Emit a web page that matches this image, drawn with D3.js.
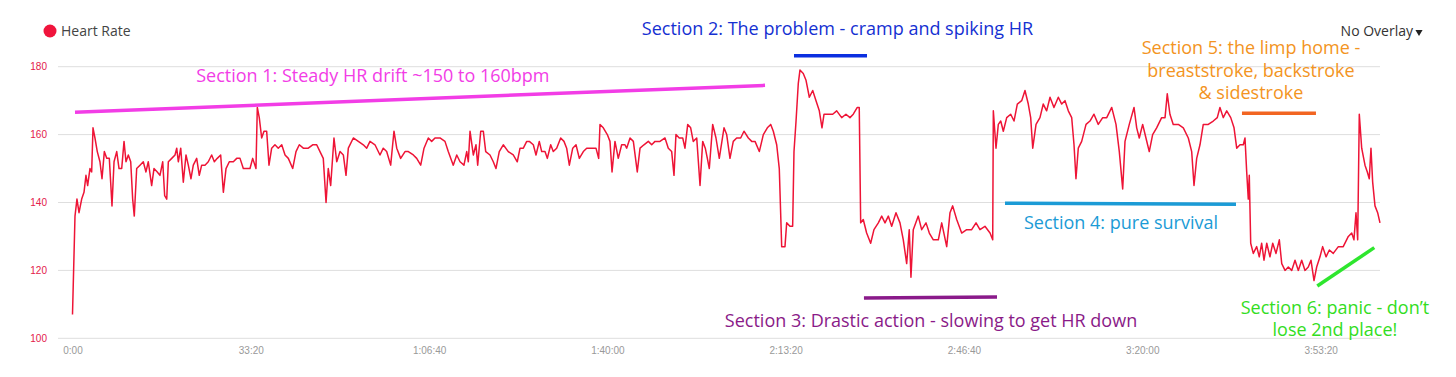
<!DOCTYPE html>
<html>
<head>
<meta charset="utf-8">
<script src="https://cdn.jsdelivr.net/npm/d3@7"></script>
<style>
  html, body { margin: 0; padding: 0; background: #fff; }
  svg { display: block; }
  .ytick text { font-family: "Liberation Sans", Arial, sans-serif; font-size: 10px; fill: #e3204a; }
  .xtick text { font-family: "Liberation Sans", Arial, sans-serif; font-size: 10px; fill: #999; }
  .note { font-family: "Open Sans", sans-serif; font-size: 18px; }
</style>
</head>
<body>
<div id="chart"></div>
<script>
// elapsed seconds, bpm
const heartRate = [
  [0,107],[28,136],[50,141],[73,137],[103,141],[129,143],[151,148],[170,145],[196,150],[215,149],[230,162],[252,159],[278,155],[308,152],[331,147],[357,155],[384,153],[413,153],[443,139],[466,152],[496,155],[522,150],[552,150],[578,158],[600,152],[626,154],[653,152],[675,141],[693,136],[720,150],[757,151],[794,152],[824,149],[850,152],[888,145],[914,150],[951,149],[981,148],[1012,152],[1034,142],[1057,141],[1075,152],[1113,153],[1150,154],[1169,156],[1187,152],[1214,156],[1243,146],[1273,154],[1299,151],[1329,147],[1355,151],[1393,153],[1422,148],[1449,151],[1486,151],[1523,152],[1561,154],[1591,152],[1624,153],[1662,154],[1692,143],[1722,150],[1759,152],[1804,152],[1842,153],[1879,153],[1916,150],[1954,150],[1991,150],[2021,153],[2058,150],[2073,168],[2095,165],[2122,159],[2148,161],[2178,161],[2204,151],[2234,156],[2271,157],[2308,156],[2347,157],[2384,154],[2421,153],[2470,150],[2507,155],[2544,157],[2589,156],[2645,156],[2694,157],[2739,157],[2776,155],[2813,153],[2844,140],[2869,150],[2896,145],[2933,159],[2964,152],[3001,155],[3038,154],[3068,148],[3094,156],[3150,159],[3206,158],[3262,157],[3300,156],[3337,158],[3393,157],[3449,154],[3486,156],[3524,155],[3569,151],[3606,161],[3637,156],[3681,153],[3730,155],[3767,155],[3823,154],[3861,153],[3906,151],[3943,156],[3991,159],[4029,158],[4066,159],[4122,159],[4178,158],[4215,155],[4271,151],[4310,154],[4347,152],[4391,151],[4422,155],[4440,152],[4459,161],[4496,154],[4526,157],[4545,151],[4579,161],[4608,161],[4635,155],[4683,154],[4720,152],[4750,150],[4787,155],[4832,157],[4888,155],[4944,154],[4989,152],
  [5020,156],[5057,156],[5095,158],[5124,158],[5169,157],[5199,154],[5236,158],[5263,155],[5300,155],[5326,153],[5364,157],[5393,155],[5431,156],[5476,159],[5513,158],[5543,156],[5573,151],[5611,156],[5648,157],[5685,153],[5730,155],[5768,156],[5824,156],[5872,156],[5902,153],[5917,163],[5954,162],[5999,160],[6029,158],[6052,149],[6085,158],[6122,153],[6160,157],[6197,157],[6216,156],[6254,159],[6291,158],[6335,149],[6366,156],[6410,157],[6459,158],[6497,157],[6534,158],[6590,158],[6646,159],[6683,156],[6721,155],[6747,148],[6769,160],[6806,159],[6845,159],[6870,156],[6901,163],[6934,162],[6963,158],[7002,159],[7039,145],[7069,158],[7098,156],[7121,153],[7143,150],[7181,163],[7218,159],[7255,153],[7308,162],[7338,160],[7375,153],[7412,158],[7450,159],[7495,159],[7532,161],[7581,159],[7619,158],[7656,158],[7704,155],[7749,160],[7794,162],[7832,163],[7861,161],[7899,157],[7928,150],[7955,127],[7992,127],[8011,134],[8048,133],[8078,133],[8093,155],[8116,164],[8141,175],[8160,179],[8197,178],[8228,176],[8265,171],[8303,173],[8340,170],[8377,167],[8407,162],[8430,166],[8478,166],[8527,166],[8572,167],[8628,165],[8676,166],[8721,165],[8758,166],[8803,168],[8825,168],[8841,134],[8870,135],[8908,131],[8953,128],[8990,132],[9039,134],[9077,136],[9114,134],[9151,136],[9189,133],[9237,137],[9282,134],[9319,129],[9357,122],[9386,132],[9405,118],[9431,132],[9487,136],[9525,132],[9574,134],[9611,131],[9656,129],[9712,129],[9750,134],[9806,127],[9843,137],[9873,139],[9918,135],[9974,131],[10030,132],[10086,132],[10135,134],
  [10179,132],[10235,133],[10292,131],[10322,129],[10329,167],[10359,156],[10385,163],[10412,164],[10441,161],[10479,165],[10524,166],[10561,164],[10598,169],[10647,170],[10684,173],[10721,169],[10748,165],[10771,156],[10808,163],[10852,165],[10889,169],[10927,167],[10965,171],[11009,168],[11058,171],[11096,169],[11133,170],[11170,167],[11208,165],[11234,157],[11256,147],[11282,156],[11320,158],[11369,163],[11413,164],[11458,166],[11506,163],[11556,165],[11601,165],[11657,168],[11705,163],[11742,155],[11780,144],[11806,158],[11854,163],[11907,168],[11937,162],[11966,159],[12004,163],[12041,159],[12078,155],[12116,160],[12161,162],[12217,165],[12255,165],[12280,172],[12310,166],[12347,163],[12404,163],[12460,162],[12516,159],[12554,155],[12580,145],[12610,153],[12647,157],[12684,163],[12740,163],[12796,164],[12841,165],[12871,168],[12908,165],[12947,167],[12992,165],[13029,162],[13059,156],[13096,157],[13133,157],[13152,159],[13171,149],[13189,141],[13200,148],[13216,128],[13245,125],[13283,127],[13312,124],[13339,128],[13365,123],[13396,128],[13432,124],[13463,128],[13500,125],[13537,129],[13564,122],[13601,120],[13638,121],[13676,120],[13713,123],[13750,120],[13788,123],[13825,120],[13862,121],[13892,123],[13926,117],[13956,121],[13993,124],[14023,127],[14061,124],[14098,126],[14142,125],[14199,127],[14254,127],[14311,130],[14349,131],[14374,129],[14397,137],[14416,129],[14434,166],[14461,156],[14498,151],[14524,149],[14546,147],[14565,156],[14584,146],[14610,139],[14640,137],[14666,134]
];

const yTicks = [100, 120, 140, 160, 180];
const xTicks = [0, 2000, 4000, 6000, 8000, 10000, 12000, 14000];

// annotation strokes, in [seconds, bpm]
const noteLines = [
  { id: "s1", from: [28, 166.6],    to: [7768, 174.5] },
  { id: "s2", from: [8093, 183.2],  to: [8912, 183.2] },
  { id: "s3", from: [8878, 111.9],  to: [10370, 112.2] },
  { id: "s4", from: [10460, 139.8], to: [13051, 139.5] },
  { id: "s5", from: [13118, 166.3], to: [13948, 166.3] },
  { id: "s6", from: [13963, 115.4], to: [14602, 126.7] }
];

const noteTexts = [
  { id: "s1", at: [3369, 175.5],  lines: ["Section 1: Steady HR drift ~150 to 160bpm"] },
  { id: "s2", at: [8581, 189.3],  lines: ["Section 2: The problem - cramp and spiking HR"] },
  { id: "s3", at: [9630, 103.3],  lines: ["Section 3: Drastic action - slowing to get HR down"] },
  { id: "s4", at: [11761, 132.2], lines: ["Section 4: pure survival"] },
  { id: "s5", at: [13219, 183.7], lines: ["Section 5: the limp home -", "breaststroke, backstroke", "& sidestroke"] },
  { id: "s6", at: [14161, 107.2], lines: ["Section 6: panic - don\u2019t", "lose 2nd place!"] }
];

const lineColor = { s1: "#f23de6", s2: "#0b2fe0", s3: "#8a1a8a", s4: "#1b9bd6", s5: "#f26522", s6: "#2ee62e" };
const textColor = { s1: "#f23de6", s2: "#1530d2", s3: "#8a1a88", s4: "#1b9bd6", s5: "#f39422", s6: "#33dd22" };

const W = 1456, H = 377;

const fmtTime = s => {
  const h = Math.floor(s / 3600), m = Math.floor((s % 3600) / 60), sec = s % 60;
  const pad = v => String(v).padStart(2, "0");
  return h ? `${h}:${pad(m)}:${pad(sec)}` : `${m}:${pad(sec)}`;
};

const svg = d3.select("#chart").append("svg")
  .attr("width", W).attr("height", H);

const x = d3.scaleLinear().domain([0, 14000]).range([72.5, 1320.6]);
const y = d3.scaleLinear().domain([100, 180]).range([338.3, 66.7]);

// gridlines + y labels
const yg = svg.append("g").attr("class", "ytick")
  .selectAll("g").data(yTicks).join("g")
  .attr("transform", d => `translate(0,${y(d)})`);
yg.append("line")
  .attr("x1", 58).attr("x2", 1380)
  .attr("stroke", "#dedede").attr("stroke-width", 1);
yg.append("text")
  .attr("x", 47).attr("dy", "0.35em")
  .attr("text-anchor", "end")
  .text(d => d);

// x axis labels only
const xAxis = svg.append("g")
  .attr("class", "xtick")
  .attr("transform", `translate(0,${y(100)})`)
  .call(d3.axisBottom(x).tickValues(xTicks).tickFormat(fmtTime).tickSize(0).tickPadding(9));
xAxis.select(".domain").remove();
xAxis.selectAll("text").attr("font-family", null).attr("font-size", null).attr("fill", null);

// heart rate trace
svg.append("path")
  .datum(heartRate)
  .attr("fill", "none")
  .attr("stroke", "#ee1436")
  .attr("stroke-width", 1.5)
  .attr("stroke-linejoin", "round")
  .attr("d", d3.line().x(d => x(d[0])).y(d => y(d[1])));

// annotations
svg.append("g").selectAll("line").data(noteLines).join("line")
  .attr("x1", d => x(d.from[0])).attr("y1", d => y(d.from[1]))
  .attr("x2", d => x(d.to[0])).attr("y2", d => y(d.to[1]))
  .attr("stroke", d => lineColor[d.id])
  .attr("stroke-width", 3.5);

const nt = svg.append("g").selectAll("text").data(noteTexts).join("text")
  .attr("class", "note")
  .attr("text-anchor", "middle")
  .attr("fill", d => textColor[d.id])
  .attr("x", d => x(d.at[0])).attr("y", d => y(d.at[1]));
nt.selectAll("tspan").data(d => d.lines.map(l => ({ l, xx: x(d.at[0]) }))).join("tspan")
  .attr("x", d => d.xx)
  .attr("dy", (d, i) => i ? 22.5 : 0)
  .text(d => d.l);

// legend
svg.append("circle").attr("cx", 50).attr("cy", 31).attr("r", 6.5).attr("fill", "#f0143c");
svg.append("text").attr("x", 61).attr("y", 36)
  .attr("font-family", "Open Sans, sans-serif").attr("font-size", 14).attr("fill", "#444")
  .text("Heart Rate");

svg.append("text").attr("x", 1413).attr("y", 36)
  .attr("text-anchor", "end")
  .attr("font-family", "Open Sans, sans-serif").attr("font-size", 14).attr("fill", "#333")
  .text("No Overlay");
svg.append("path")
  .attr("d", d3.symbol(d3.symbolTriangle, 22)())
  .attr("transform", "translate(1419,32) rotate(180)")
  .attr("fill", "#222");
</script>
</body>
</html>
